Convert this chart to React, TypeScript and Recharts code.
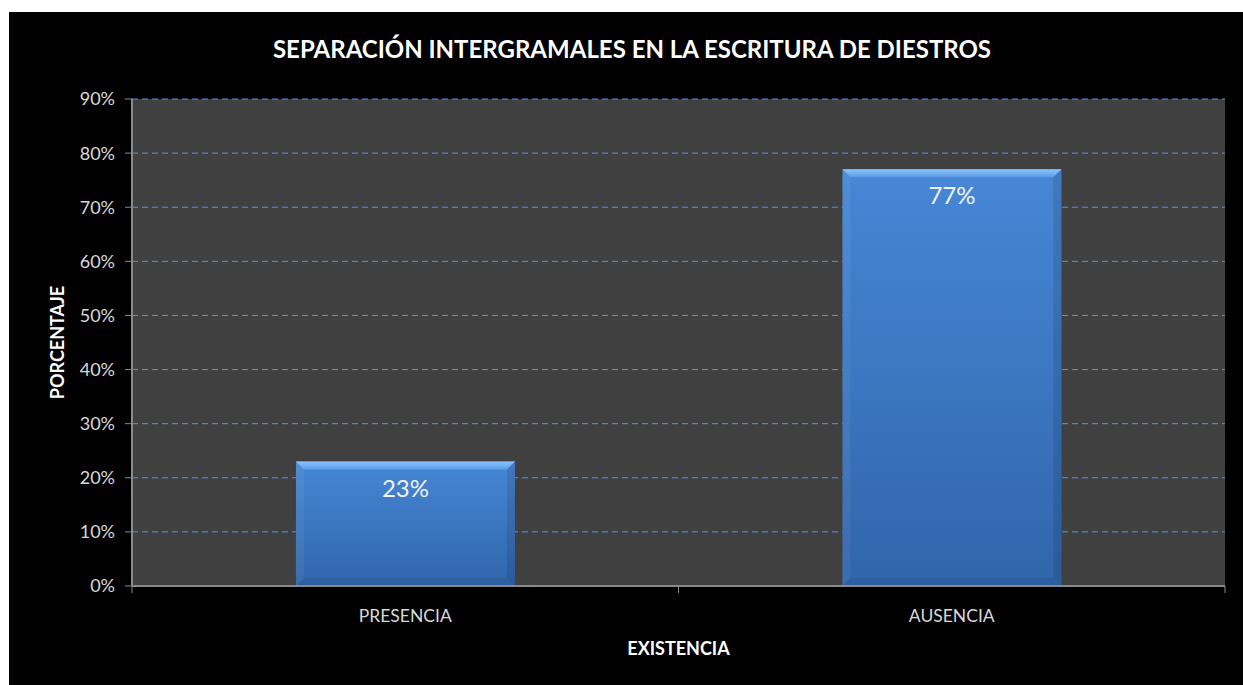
import React from "react";
import {
  BarChart,
  Bar,
  XAxis,
  YAxis,
  CartesianGrid,
  LabelList,
  Label,
} from "recharts";

const categories = ["PRESENCIA", "AUSENCIA"];
const values = [0.23, 0.77];
const yTicks = [0, 0.1, 0.2, 0.3, 0.4, 0.5, 0.6, 0.7, 0.8, 0.9];

const title = "SEPARACIÓN INTERGRAMALES EN LA ESCRITURA DE DIESTROS";
const xTitle = "EXISTENCIA";
const yTitle = "PORCENTAJE";

const data = categories.map((name, i) => ({ name, value: values[i] }));

const FONT = "Lato, 'Open Sans', sans-serif";
const pct = (v: number) => `${Math.round(v * 100)}%`;
const X_TICK_SIZE = 7;
const X_TICK_MARGIN = 17;

// bar with a small bevel at the top, like the office 3d style
function BevelBar(props: any) {
  const { x, y, width, height } = props;
  if (!height || height <= 0) return null;
  const b = 8;
  return (
    <g>
      <rect x={x} y={y} width={width} height={height} fill="url(#barGrad)" />
      <polygon
        points={`${x},${y} ${x + width},${y} ${x + width - b},${y + b} ${x + b},${y + b}`}
        fill="url(#bevelTop)"
      />
      <polygon
        points={`${x},${y} ${x + b},${y + b} ${x + b},${y + height - b} ${x},${y + height}`}
        fill="rgba(255,255,255,0.05)"
      />
      <polygon
        points={`${x + width},${y} ${x + width - b},${y + b} ${x + width - b},${y + height - b} ${x + width},${y + height}`}
        fill="rgba(0,0,0,0.1)"
      />
      <polygon
        points={`${x},${y + height} ${x + b},${y + height - b} ${x + width - b},${y + height - b} ${x + width},${y + height}`}
        fill="rgba(0,0,0,0.06)"
      />
    </g>
  );
}

// category label, plus tick marks on the band edges (between categories)
function CategoryTick(props: any) {
  const { x, y, payload } = props;
  const half = payload?.offset ?? 0;
  const axisY = y - X_TICK_SIZE - X_TICK_MARGIN;
  return (
    <g>
      <line x1={x - half} x2={x - half} y1={axisY} y2={axisY + X_TICK_SIZE} stroke="#8a8a8a" />
      <line x1={x + half} x2={x + half} y1={axisY} y2={axisY + X_TICK_SIZE} stroke="#8a8a8a" />
      <text
        x={x}
        y={y}
        dy="0.71em"
        textAnchor="middle"
        fill="#d9d9d9"
        fontSize={17.5}
        fontFamily={FONT}
      >
        {payload.value}
      </text>
    </g>
  );
}

export default function App() {
  return (
    <div
      style={{
        position: "absolute",
        left: 0,
        top: 0,
        width: 1243,
        height: 685,
        background: "#ffffff",
        overflow: "hidden",
      }}
    >
      <div
        style={{
          position: "absolute",
          left: 9,
          top: 12,
          width: 1234,
          height: 673,
          background: "#000000",
        }}
      >
        <div
          style={{
            position: "absolute",
            left: 0,
            top: 22,
            width: 1246,
            textAlign: "center",
            color: "#ffffff",
            fontFamily: FONT,
            fontWeight: 700,
            fontSize: 24,
          }}
        >
          {title}
        </div>
        <BarChart
          width={1234}
          height={673}
          data={data}
          margin={{ top: 87, right: 18, left: 1, bottom: 0 }}
          barCategoryGap="30%"
        >
          <defs>
            <linearGradient id="barGrad" x1="0" y1="0" x2="0" y2="1">
              <stop offset="0%" stopColor="#4787d6" />
              <stop offset="100%" stopColor="#3065aa" />
            </linearGradient>
            <linearGradient id="bevelTop" x1="0" y1="0" x2="0" y2="1">
              <stop offset="0%" stopColor="#8cc4ff" />
              <stop offset="100%" stopColor="#5a9ae6" />
            </linearGradient>
          </defs>
          <CartesianGrid
            horizontal
            vertical={false}
            fill="#404040"
            stroke="#5592e6"
            strokeDasharray="6 4"
          />
          <XAxis
            dataKey="name"
            height={99}
            axisLine={{ stroke: "#8a8a8a", strokeWidth: 2 }}
            tickLine={false}
            tickSize={X_TICK_SIZE}
            tickMargin={X_TICK_MARGIN}
            tick={<CategoryTick />}
          >
            <Label
              content={({ viewBox }: any) => (
                <text
                  x={viewBox.x + viewBox.width / 2}
                  y={viewBox.y + 62}
                  textAnchor="middle"
                  dominantBaseline="central"
                  fill="#ffffff"
                  fontFamily={FONT}
                  fontWeight={700}
                  fontSize={18}
                >
                  {xTitle}
                </text>
              )}
            />
          </XAxis>
          <YAxis
            width={122}
            domain={[0, 0.9]}
            ticks={yTicks}
            tickFormatter={pct}
            axisLine={{ stroke: "#8a8a8a", strokeWidth: 2 }}
            tickLine={{ stroke: "#8a8a8a" }}
            tickSize={7}
            tickMargin={10}
            tick={{ fill: "#d9d9d9", fontSize: 18, fontFamily: FONT }}
          >
            <Label
              content={({ viewBox }: any) => {
                const cx = 48;
                const cy = viewBox.y + viewBox.height / 2;
                return (
                  <text
                    x={cx}
                    y={cy}
                    transform={`rotate(-90 ${cx} ${cy})`}
                    textAnchor="middle"
                    dominantBaseline="central"
                    fill="#ffffff"
                    fontFamily={FONT}
                    fontWeight={700}
                    fontSize={18}
                  >
                    {yTitle}
                  </text>
                );
              }}
            />
          </YAxis>
          <Bar dataKey="value" shape={<BevelBar />} isAnimationActive={false}>
            <LabelList
              dataKey="value"
              position="insideTop"
              offset={18}
              formatter={(v: any) => pct(Number(v))}
              style={{ fill: "#f2f2f2", fontSize: 24, fontFamily: FONT }}
            />
          </Bar>
        </BarChart>
      </div>
    </div>
  );
}
